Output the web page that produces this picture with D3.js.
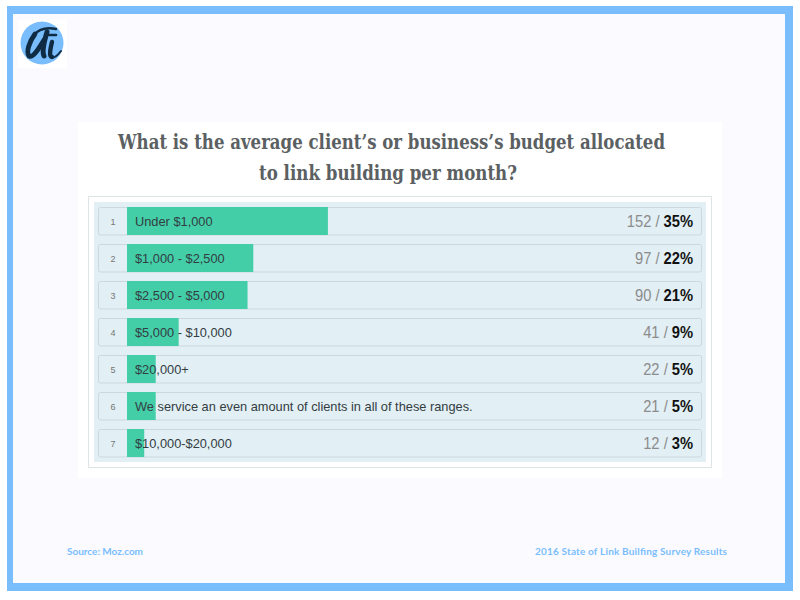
<!DOCTYPE html>
<html><head><meta charset="utf-8">
<script src="https://d3js.org/d3.v7.min.js"></script>
<style>html,body{margin:0;padding:0;background:#fff}svg{display:block}</style>
</head><body><svg id="c" width="800" height="600"></svg>
<script>
const ranks = [1,2,3,4,5,6,7];
const categories = ["Under $1,000","$1,000 - $2,500","$2,500 - $5,000","$5,000 - $10,000","$20,000+","We service an even amount of clients in all of these ranges.","$10,000-$20,000"];
const counts = [152,97,90,41,22,21,12];
const percents = [35,22,21,9,5,5,3];
const titleLines = ["What is the average client\u2019s or business\u2019s budget allocated","to link building per month?"];
const sourceText = "Source: Moz.com";
const surveyText = "2016 State of Link Builfing Survey Results";

const svg = d3.select("#c");
const R = (x,y,w,h,fill,stroke,rx)=>svg.append("rect").attr("x",x).attr("y",y).attr("width",w).attr("height",h).attr("fill",fill).attr("stroke",stroke||"none").attr("rx",rx||0);
R(7,6,786,585,"#7abdfd");
R(13,14,772,569,"#fbfbff");
// logo
R(18,20,49,48,"#ffffff");
svg.append("circle").attr("cx",42).attr("cy",43).attr("r",21.5).attr("fill","#7abdfd");
const logo = svg.append("g").attr("fill","none").attr("stroke","#0f2c44").attr("stroke-linecap","round");
logo.append("path").attr("stroke-width",2.4).attr("d","M56,29 C46,27 39,29 34,35");
logo.append("path").attr("stroke-width",4.8).attr("d","M35,34 C29,42 26,52 29,56 C33,58 38,50 44,40");
logo.append("path").attr("stroke-width",5).attr("d","M47,32 C44,42 42,52 44,56");
logo.append("path").attr("stroke-width",2.6).attr("d","M49,35 L56,35");
logo.append("path").attr("stroke-width",4.4).attr("d","M52,42 C50,50 49,57 52,57");
logo.append("path").attr("stroke-width",2).attr("d","M52,57.5 C55,58 58,55 61,51");
// panel
R(78,122,644,356,"#ffffff");
svg.selectAll("text.t").data(titleLines).join("text").attr("class","t").attr("x",(d,i)=>i?259:118).attr("y",(d,i)=>149+i*31).attr("font-family","'DejaVu Serif',serif").attr("font-weight",700).attr("font-size",19.5).attr("fill","#5b6062").attr("textLength",(d,i)=>i?258:547).attr("lengthAdjust","spacingAndGlyphs").text(d=>d);
R(88.5,196.5,623,271,"#ffffff","#dde5e6");
R(94,202,612,260,"#e2eff4");

const x = d3.scaleLinear().domain([0,100]).range([127,701]);
const y = d3.scaleBand().domain(ranks).range([207,466]).paddingInner(0);
const h = 28;
const g = svg.selectAll("g.row").data(ranks).join("g").attr("class","row").attr("transform",d=>`translate(0,${y(d)})`);
g.append("rect").attr("x",98.5).attr("y",0.5).attr("width",603).attr("height",h-0.5).attr("rx",2).attr("fill","#e2eff4").attr("stroke","#cbd9de");
g.append("rect").attr("x",x(0)).attr("y",0).attr("width",(d,i)=>x(percents[i])-x(0)).attr("height",h).attr("fill","#43cea8");
g.append("text").attr("x",113).attr("y",18).attr("text-anchor","middle").attr("font-family","'Liberation Sans',sans-serif").attr("font-size",9).attr("fill","#777").text(d=>d);
g.append("text").attr("x",135).attr("y",18.5).attr("font-family","'Liberation Sans',sans-serif").attr("font-size",12.8).attr("fill","#333d42").text((d,i)=>categories[i]);
const pct = g.append("text").attr("class","pct").attr("y",20).attr("font-family","'Liberation Sans',sans-serif").attr("font-size",16).attr("font-weight",700).attr("fill","#111").text((d,i)=>percents[i]+"%");
pct.each(function(){
  const w = this.getComputedTextLength()*0.92;
  d3.select(this).attr("x",693-w).attr("textLength",w).attr("lengthAdjust","spacingAndGlyphs");
  this.__left = 693-w;
});
const cnt = g.append("text").attr("y",20).attr("font-family","'Liberation Sans',sans-serif").attr("font-size",16).attr("fill","#8c8c8c").text((d,i)=>counts[i]+" /");
cnt.each(function(d,i){
  const w = this.getComputedTextLength()*0.92;
  const right = pct.nodes()[i].__left - 4;
  d3.select(this).attr("x",right-w).attr("textLength",w).attr("lengthAdjust","spacingAndGlyphs");
});
// footer
const F = (x,a,s)=>svg.append("text").attr("x",x).attr("y",555).attr("text-anchor",a).attr("font-family","Lato,sans-serif").attr("font-weight",700).attr("font-size",10).attr("fill","#7abdfd").text(s);
F(67,"start",sourceText).attr("textLength",76);
F(535,"start",surveyText).attr("textLength",192);
</script></body></html>
